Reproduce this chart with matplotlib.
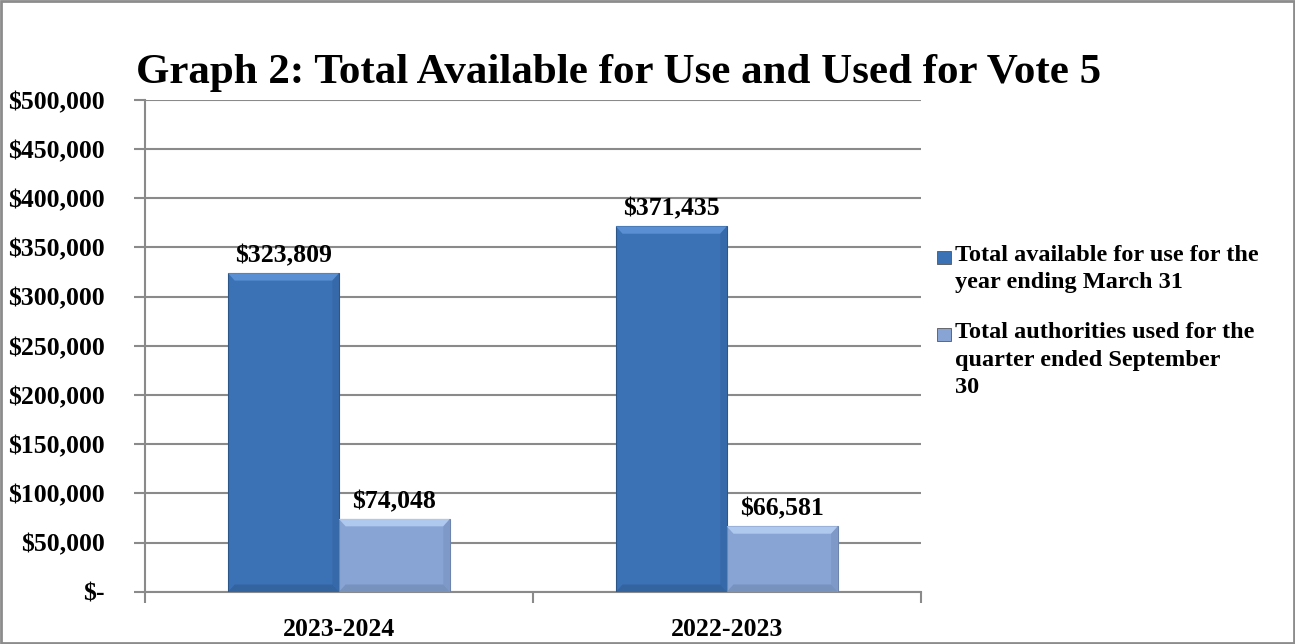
import matplotlib.pyplot as plt
from matplotlib.patches import Rectangle, Polygon
import numpy as np

years = ['2023-2024', '2022-2023']
available = [323809, 371435]
used = [74048, 66581]
legend_labels = ['Total available for use for the\nyear ending March 31',
                 'Total authorities used for the\nquarter ended September\n30']
y_ticks = np.arange(0, 500001, 50000)

dark = '#3b72b6'
light = '#87a4d4'
grid_col = '#8a8a8a'

plt.rcParams['font.family'] = ['Liberation Serif', 'DejaVu Serif']
plt.rcParams['font.weight'] = 'bold'

fig = plt.figure(figsize=(12.95, 6.44), dpi=100)
ax = fig.add_axes([0.112, 0.081, 0.599, 0.764])

x = np.arange(len(years))
w = 0.286
bars1 = ax.bar(x - w / 2, available, w, color=dark, edgecolor='#2c5687', linewidth=0.8, zorder=3)
bars2 = ax.bar(x + w / 2, used, w, color=light, edgecolor='#6d85ad', linewidth=0.8, zorder=3)


def bevel(bars, hi, lo):
    # lighter top edge and darker bottom edge, like an office chart bevel
    for b in bars:
        x0, y0 = b.get_x(), b.get_y()
        bw, bh = b.get_width(), b.get_height()
        dx = bw * 0.06
        dy = 7500
        ax.add_patch(Polygon([(x0, y0 + bh), (x0 + bw, y0 + bh), (x0 + bw - dx, y0 + bh - dy),
                              (x0 + dx, y0 + bh - dy)], closed=True, color=hi, lw=0, zorder=4))
        ax.add_patch(Polygon([(x0, y0), (x0 + bw, y0), (x0 + bw - dx, y0 + dy),
                              (x0 + dx, y0 + dy)], closed=True, color=lo, alpha=0.6, lw=0, zorder=4))
        ax.add_patch(Polygon([(x0 + bw, y0), (x0 + bw, y0 + bh), (x0 + bw - dx, y0 + bh - dy),
                              (x0 + bw - dx, y0 + dy)], closed=True, color=lo, alpha=0.35, lw=0, zorder=4))


bevel(bars1, '#5a90d3', '#2f5b92')
bevel(bars2, '#afc8ee', '#6f86b0')

for bars, vals in ((bars1, available), (bars2, used)):
    for b, v in zip(bars, vals):
        ax.text(b.get_x() + b.get_width() / 2, v + 6000, '${:,}'.format(v),
                ha='center', va='bottom', fontsize=18.5, fontweight='bold')

ax.set_xlim(-0.5, len(years) - 0.5)
ax.set_ylim(0, 500000)
ax.set_yticks(y_ticks)
ax.set_yticklabels(['$-'] + ['${:,}'.format(v) for v in y_ticks[1:]], fontsize=18.5)
ax.set_xticks(x)
ax.set_xticklabels(years, fontsize=18.5)
ax.set_xticks(np.arange(len(years) + 1) - 0.5, minor=True)
ax.tick_params(axis='x', which='major', length=0, pad=19)
ax.tick_params(axis='x', which='minor', length=8, color=grid_col, width=1.5)
ax.tick_params(axis='y', length=8, color=grid_col, width=1.5, pad=21)

ax.grid(axis='y', color=grid_col, linewidth=1.5, zorder=0)
ax.set_axisbelow(True)
for s in ('top', 'right'):
    ax.spines[s].set_visible(False)
for s in ('left', 'bottom'):
    ax.spines[s].set_color(grid_col)
    ax.spines[s].set_linewidth(1.5)

fig.text(0.478, 0.886, 'Graph 2: Total Available for Use and Used for Vote 5',
         ha='center', va='center', fontsize=31, fontweight='bold')

# legend drawn by hand so the swatch sits on the first line of each entry
for lab, col, ytop in zip(legend_labels, (dark, light), (0.62, 0.5)):
    fig.add_artist(Rectangle((0.7235, ytop - 0.03), 0.0105, 0.021, transform=fig.transFigure,
                             facecolor=col, edgecolor='#555555', linewidth=0.6))
    fig.text(0.7375, ytop, lab, ha='left', va='top', fontsize=17.5,
             fontweight='bold', linespacing=1.42)

fig.add_artist(Rectangle((0.001, 0.002), 0.998, 0.996, transform=fig.transFigure,
                         fill=False, edgecolor='#8c8c8c', linewidth=2))

fig.savefig('out.png', dpi=100)
